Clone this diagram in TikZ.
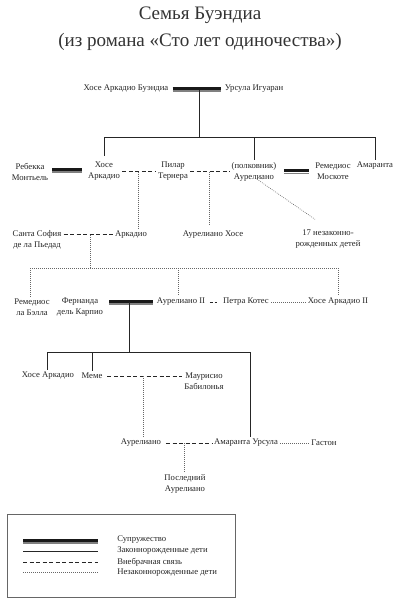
\documentclass[tikz,border=0pt]{standalone}
\usepackage{fontspec}
\setmainfont{Liberation Serif}
\usetikzlibrary{calc}
\begin{document}
\begin{tikzpicture}[x=0.75pt,y=-0.75pt,
  p/.style={font=\fontsize{6.5pt}{8.25pt}\selectfont, inner sep=1.5pt, align=center, text=black!85},
  ttl/.style={font=\fontsize{14.3pt}{17pt}\selectfont, inner sep=0pt, text=black!80},
  legit/.style={line width=0.6pt, black!85},
  marr/.style={postaction={draw, line width=2.2pt, black!90, transform canvas={yshift=0.6pt}},
               postaction={draw, line width=1pt, black!50, transform canvas={yshift=-1.4pt}}},
  affair/.style={line width=0.6pt, black!85, dash pattern=on 3pt off 1.9pt},
  shortaffair/.style={line width=0.7pt, black!85, dash pattern=on 2pt off 1.5pt},
  illeg/.style={line width=0.45pt, black!60, dash pattern=on 0.6pt off 0.9pt},
]
\useasboundingbox (0,0) rectangle (400,600);
\fill[white] (0,0) rectangle (400,600);

% title
\node[ttl] (t1) at (200,15) {Семья Буэндиа};
\node[ttl] (t2) at (200,42) {(из романа «Сто лет одиночества»)};

% row 1
\node[p] (jab) at (126,89) {Хосе Аркадио Буэндиа};
\node[p] (urs) at (254,89) {Урсула Игуаран};
\path[marr] ([xshift=1.5pt]jab.east) -- ([xshift=-1.5pt]urs.west);

% row 2
\node[p] (reb) at (30,171.5) {Ребекка\\Монтьель};
\node[p] (xa) at (104,171.5) {Хосе\\Аркадио};
\node[p] (pil) at (173,171.5) {Пилар\\Тернера};
\node[p] (aur) at (254,171.5) {(полковник)\\Аурелиано};
\node[p] (rem) at (333,171.5) {Ремедиос\\Москоте};
\node[p] (ama) at (375,166) {Амаранта};

\coordinate (b1) at (199,90);
\coordinate (h1) at (199,137);
\coordinate (h1a) at (104,137);
\coordinate (h1b) at (254,137);
\coordinate (h1c) at (375,137);
\draw[legit] (b1) -- (h1);
\draw[legit] (h1a) -- (h1c);
\draw[legit] (h1a) -- ([yshift=3pt]xa.north -| h1a);
\draw[legit] (h1b) -- (aur.north -| h1b);
\draw[legit] (h1c) -- (ama.north -| h1c);

\path[marr] ([xshift=1.5pt]reb.east |- 0,170) -- ([xshift=-3pt]xa.west |- 0,170);
\draw[affair] (xa.east) -- (pil.west);
\draw[affair] (pil.east) -- (aur.west);
\path[marr] ([xshift=4pt]aur.east) -- ([xshift=-3pt]rem.west);

% row 3
\node[p] (ssd) at (37,239.5) {Санта София\\де ла Пьедад};
\node[p] (arc) at (131,234.5) {Аркадио};
\node[p] (ah) at (213,234.5) {Аурелиано Хосе};
\node[p] (n17) at (328,239.5) {17 незаконно-\\рожденных детей};

\coordinate (d2a) at (138,171.5);
\coordinate (d2b) at (209,171.5);
\draw[illeg] (d2a) -- (arc.north -| d2a);
\draw[illeg] (d2b) -- ([yshift=3pt]ah.north -| d2b);
\draw[illeg] ([xshift=2.25pt,yshift=3pt]aur.south) -- ([xshift=-9.75pt,yshift=6.5pt]n17.north);

\draw[affair] (arc.west -| ssd.east) -- (arc.west);
\coordinate (d3) at (90,235);
\coordinate (h3) at (90,268);
\coordinate (h3a) at (30,268);
\coordinate (h3b) at (178,268);
\coordinate (h3c) at (338,268);
\draw[illeg] (d3) -- (h3);
\draw[illeg] (h3a) -- (h3c);

% row 4
\node[p] (rlb) at (32,307.5) {Ремедиос\\ла Бэлла};
\node[p] (fer) at (80,307.5) {Фернанда\\дель Карпио};
\node[p] (a2) at (181,302) {Аурелиано II};
\node[p] (pk) at (246,302) {Петра Котес};
\node[p] (ja2) at (338,302) {Хосе Аркадио II};

\draw[illeg] (h3a) -- (rlb.north -| h3a);
\draw[illeg] (h3b) -- (a2.north -| h3b);
\draw[illeg] (h3c) -- (ja2.north -| h3c);

\path[marr] ([xshift=3pt]a2.west -| fer.east) -- ([xshift=-1.5pt]a2.west);
\draw[shortaffair] ([xshift=2pt]a2.east) -- ([xshift=-2pt]pk.west);
\draw[illeg] (pk.east) -- (ja2.west);

\coordinate (b4) at (129,302);
\coordinate (h4) at (129,352);
\coordinate (h4a) at (47,352);
\coordinate (h4b) at (92,352);
\coordinate (h4c) at (250,352);
\draw[legit] (b4) -- (h4);
\draw[legit] (h4a) -- (h4c);

% row 5
\node[p] (jaa) at (48,376) {Хосе Аркадио};
\node[p] (meme) at (92,376) {Меме};
\node[p] (mb) at (204,381.5) {Маурисио\\Бабилонья};
\draw[legit] (h4a) -- (jaa.north -| h4a);
\draw[legit] (h4b) -- (meme.north -| h4b);

\draw[affair] ([xshift=2pt]meme.east) -- (meme.east -| mb.west);
\coordinate (d5) at (143,376);

% row 6
\node[p] (aul) at (141,443) {Аурелиано};
\node[p] (amu) at (246,443) {Амаранта Урсула};
\node[p] (gas) at (324,443) {Гастон};
\draw[legit] (h4c) -- (amu.north -| h4c);
\draw[illeg] (d5) -- (aul.north -| d5);
\draw[affair] ([xshift=2pt]aul.east) -- (amu.west);
\draw[illeg] (amu.east) -- (gas.west);

\node[p] (pa) at (185,483.5) {Последний\\Аурелиано};
\coordinate (d6) at (184,443);
\draw[illeg] (d6) -- (pa.north -| d6);

% legend
\draw[line width=0.5pt, black!60] (7,514) rectangle (235,597);
\coordinate (l1a) at (23,541); \coordinate (l1b) at (98,541);
\coordinate (l2a) at (23,551); \coordinate (l2b) at (98,551);
\coordinate (l3a) at (23,562); \coordinate (l3b) at (98,562);
\coordinate (l4a) at (23,572); \coordinate (l4b) at (98,572);
\path[marr] (l1a) -- (l1b);
\draw[legit] (l2a) -- (l2b);
\draw[affair] (l3a) -- (l3b);
\draw[illeg] (l4a) -- (l4b);
\node[p, anchor=west] (g1) at (115,540) {Супружество};
\node[p, anchor=west] (g2) at (115,551) {Законнорожденные дети};
\node[p, anchor=west] (g3) at (115,562) {Внебрачная связь};
\node[p, anchor=west] (g4) at (115,573) {Незаконнорожденные дети};
\end{tikzpicture}
\end{document}
